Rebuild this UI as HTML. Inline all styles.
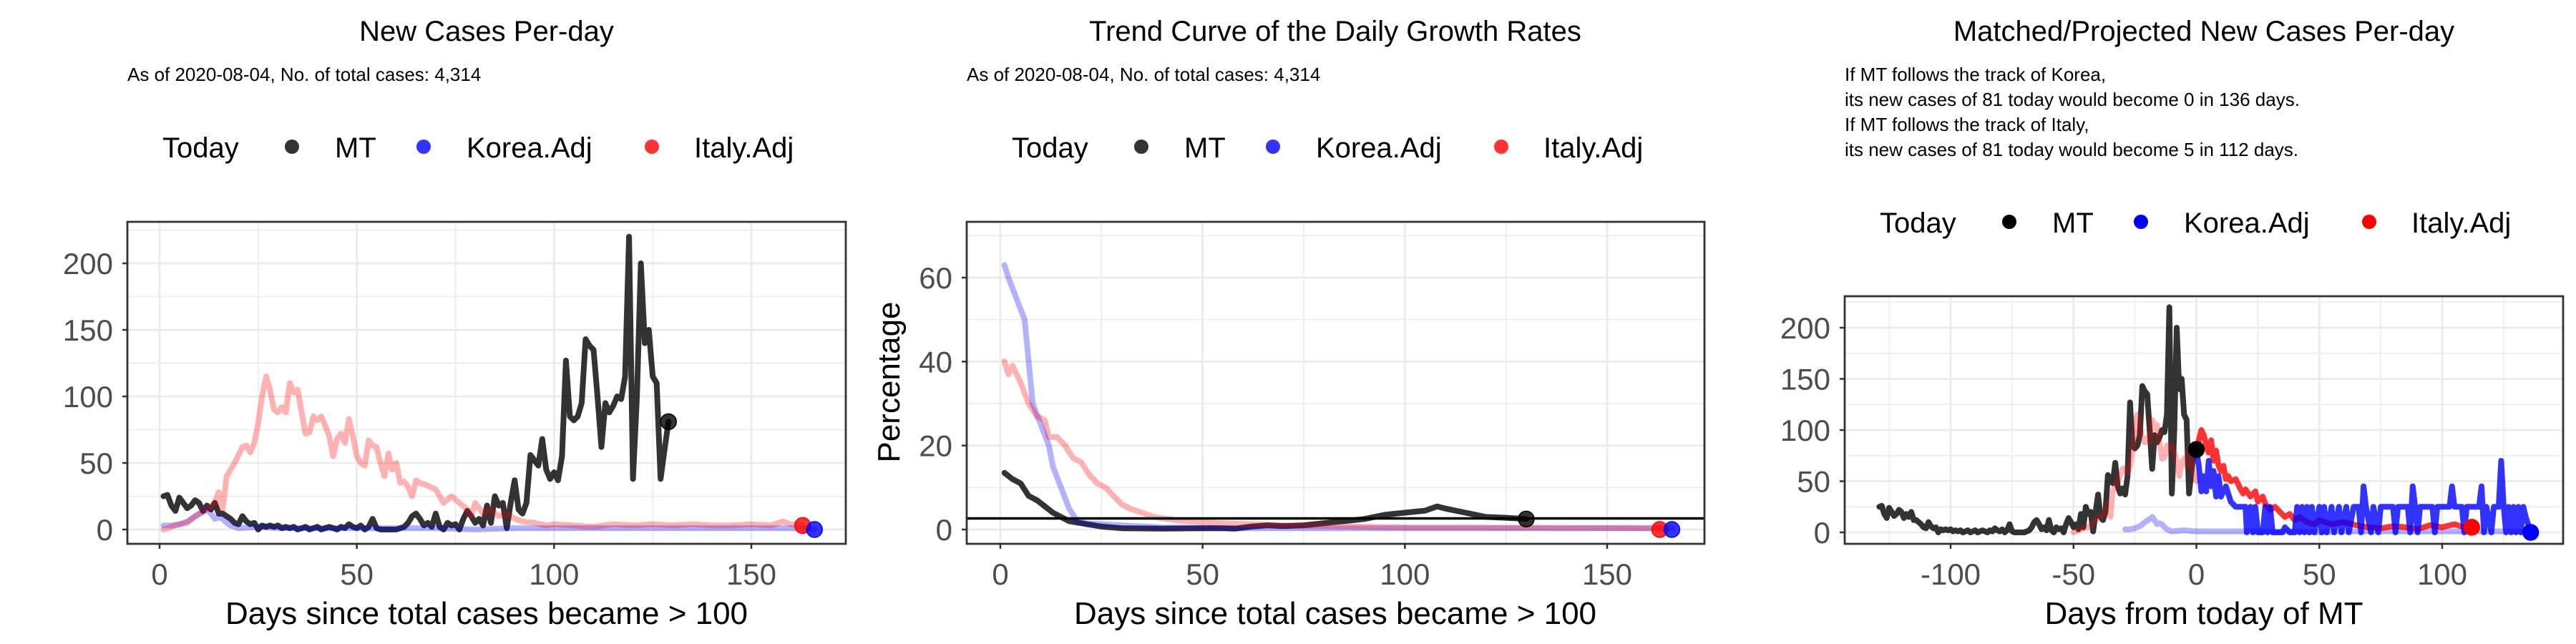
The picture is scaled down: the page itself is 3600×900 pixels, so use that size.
<!DOCTYPE html>
<html><head><meta charset="utf-8"><style>
html,body{margin:0;padding:0;background:#fff;}
svg{display:block;font-family:"Liberation Sans",Arial,sans-serif;}
</style></head><body>
<svg id="chart" width="3600" height="900" viewBox="0 0 3600 900" xmlns="http://www.w3.org/2000/svg">
<rect width="3600" height="900" fill="#fff"/>
<defs>
<clipPath id="c1"><rect x="178" y="310" width="1004" height="450"/></clipPath>
<clipPath id="c2"><rect x="1351" y="310" width="1031" height="450"/></clipPath>
<clipPath id="c3"><rect x="2578" y="414" width="1004" height="346"/></clipPath>
</defs>
<text x="680" y="57" font-size="40" text-anchor="middle">New Cases Per-day</text>
<text x="178" y="113" font-size="26">As of 2020-08-04, No. of total cases: 4,314</text>
<text x="1866" y="57" font-size="40" text-anchor="middle">Trend Curve of the Daily Growth Rates</text>
<text x="1351" y="113" font-size="26">As of 2020-08-04, No. of total cases: 4,314</text>
<text x="3080" y="57" font-size="40" text-anchor="middle">Matched/Projected New Cases Per-day</text>
<g font-size="26">
<text x="2578" y="113">If MT follows the track of Korea,</text>
<text x="2578" y="148">its new cases of 81 today would become 0 in 136 days.</text>
<text x="2578" y="183">If MT follows the track of Italy,</text>
<text x="2578" y="218">its new cases of 81 today would become 5 in 112 days.</text>
</g>
<text x="680" y="872" font-size="44" text-anchor="middle">Days since total cases became &gt; 100</text>
<text x="1866" y="872" font-size="44" text-anchor="middle">Days since total cases became &gt; 100</text>
<text x="3080" y="872" font-size="44" text-anchor="middle">Days from today of MT</text>
<text x="0" y="0" font-size="44" text-anchor="middle" transform="translate(1257,534) rotate(-90)">Percentage</text>
</svg>
<script>
// ---- data ----
const mtNew = [25,26,18,14,24,20,16,18,22,20,14,18,15,20,12,12,10,8,5,4,10,6,4,5,0,3,2,3,2,3,1,2,1,2,0,1,2,0,1,2,0,1,2,1,0,2,1,4,2,1,3,0,2,8,1,0,0,0,0,0,1,2,5,10,12,8,3,5,2,12,2,0,5,3,4,0,8,14,10,5,8,3,18,5,25,18,20,1,20,37,15,12,20,56,52,48,68,45,38,43,37,55,127,85,82,85,95,143,138,135,100,62,95,88,93,100,98,115,220,38,100,200,140,150,115,110,38,60,81];
const italyDays = [1,4,7,10,12,14,15,16,17,19,21,22,23,24,25,26,27,28,29,30,31,32,33,34,35,36,37,38,39,40,41,42,43,44,45,46,47,48,49,50,51,52,53,54,55,56,57,58,59,60,61,62,63,64,65,66,68,70,72,74,76,78,79,80,82,84,86,88,90,92,95,98,100,105,110,115,120,125,130,135,140,145,150,155,158,160,163];
const italyNew = [0,3,5,12,15,20,28,15,40,50,62,63,58,65,80,100,115,105,90,88,92,88,110,103,105,88,72,73,85,82,85,78,70,55,68,72,65,83,70,55,50,48,67,63,62,50,40,57,45,50,35,36,32,25,37,35,33,30,20,25,20,15,10,20,12,15,10,12,8,6,5,3,4,3,2,4,3,4,3,4,3,3,4,3,6,4,3];
const koreaDays = [1,3,5,7,9,11,12,13,14,15,16,17,18,20,25,30,40,50,60,70,80,90,100,110,120,130,140,150,160,166];
const koreaNew = [3,3,4,6,10,13,15,12,8,9,8,5,3,1,2,1,1,1,1,1,0,1,1,1,1,1,1,1,1,0];
const mtGrowthDays = [1,3,5,7,9,11,13,15,17,20,25,30,40,50,55,58,62,66,70,75,80,85,90,95,100,105,108,110,115,120,125,130];
const mtGrowth = [13.5,12,11,8,7,5.5,4,3,2,1.5,0.7,0.3,0.2,0.3,0.3,0.2,0.7,1.0,0.8,1.0,1.5,2,2.5,3.5,4,4.5,5.5,5,4,3,2.8,2.5];
const koreaGrowthDays = [1,2,4,6,7,8,10,12,13,15,17,19,21,30,40,60,166];
const koreaGrowth = [63,60,55,50,40,30,25,20,15,10,5,2,1.5,1,0.5,0.3,0.3];
const italyGrowthDays = [1,2,3,5,7,9,11,12,14,16,18,20,22,24,26,28,30,32,35,38,45,55,70,100,163];
const italyGrowth = [40,37,39,35,30,27,26,22,22,20,17,16,13,11,10,8,6,5,4,3,2,1.5,1,0.5,0.3];
const growthRef = 2.65;
const koreaProjDays = [0,1,2,3,4,5,6,7,8,9,10,12,14,16,18,20,20.5,22,23,24,25,27,28,29,30,31,35,36,38,40,41,42,43,44,45,46,47,48,50,51,52,53,55,56,58,59,61,62,64,66,67,68,69,71,72,74,75,80,81,82,86,87,88,89,90,91,96,97,98,103,104,105,108,109,110,115,116,117,118,120,121,123,124,125,126,127,128,129,130,131,132,133,134,136];
const koreaProj = [80,65,40,55,40,70,45,60,35,55,35,45,30,25,25,25,0,25,0,25,0,0,25,0,25,0,0,5,0,0,25,0,25,0,25,0,25,0,25,0,25,0,25,0,25,0,25,0,25,25,0,45,25,0,25,0,25,25,0,25,25,0,45,25,0,25,25,0,25,25,45,25,25,0,25,25,45,0,25,0,25,25,70,25,0,25,0,25,0,25,0,25,15,0];
const italyProjDays = [0,1,2,3,4,5,6,7,8,9,10,11,12,13,14,16,18,19,20,22,24,25,27,28,30,32,34,36,38,40,42,45,48,50,55,60,65,70,75,80,85,90,95,100,105,110,112];
const italyProj = [80,90,100,95,85,78,90,70,80,65,60,65,52,55,50,52,42,38,42,35,40,30,35,28,22,25,20,15,18,12,15,10,8,12,8,10,7,5,4,6,5,3,7,5,8,4,5];
const xTicks1 = [0,50,100,150];
const yTicks1 = [0,50,100,150,200];
const yTicks2 = [0,20,40,60];
const xTicks3 = [-100,-50,0,50,100];
const mtShift = -130, italyShift = -51, koreaShift = -30;

const NS = "http://www.w3.org/2000/svg";
const svg = document.getElementById('chart');
function mk(tag, attrs, parent){
  const e = document.createElementNS(NS, tag);
  for (const k in attrs) e.setAttribute(k, attrs[k]);
  (parent||svg).appendChild(e);
  return e;
}
function lin(d0,p0,d1,p1){ return v => p0 + (v-d0)*(p1-p0)/(d1-d0); }

function panel(id, box, xs, ys, xt, xm, yt, ym, clip){
  const g = mk('g', {});
  
  
  xm.forEach(v => { const x = xs(v); if (x>box.x && x<box.x+box.w) { const l = mk('line',{x1:x,x2:x,y1:box.y,y2:box.y+box.h,stroke:'#ebebeb','stroke-width':1.4},g);
      }});
  ym.forEach(v => { const y = ys(v); if (y>box.y && y<box.y+box.h) { const l = mk('line',{x1:box.x,x2:box.x+box.w,y1:y,y2:y,stroke:'#ebebeb','stroke-width':1.4},g);
      }});
  xt.forEach(v => { const x = xs(v);
    const l = mk('line',{x1:x,x2:x,y1:box.y,y2:box.y+box.h,stroke:'#ebebeb','stroke-width':2.8},g);
     
    const t = mk('line',{x1:x,x2:x,y1:box.y+box.h,y2:box.y+box.h+7,stroke:'#333','stroke-width':2.5},g);
     
    const tx = mk('text',{x:x,y:817,'font-size':42,fill:'#4d4d4d','text-anchor':'middle'},g); tx.textContent = v<0 ? '-'+(-v) : String(v);
      });
  yt.forEach(v => { const y = ys(v);
    const l = mk('line',{x1:box.x,x2:box.x+box.w,y1:y,y2:y,stroke:'#ebebeb','stroke-width':2.8},g);
     
    const t = mk('line',{x1:box.x-7,x2:box.x,y1:y,y2:y,stroke:'#333','stroke-width':2.5},g);
     
    const tx = mk('text',{x:box.x-20,y:y+15,'font-size':42,fill:'#4d4d4d','text-anchor':'end'},g); tx.textContent = String(v);
      });
  const series = mk('g',{'clip-path':'url(#'+clip+')'},g);
  
  
  const border = mk('rect',{x:box.x,y:box.y,width:box.w,height:box.h,fill:'none',stroke:'#333','stroke-width':2.8},g);
  
  
  return series;
}
function line(g, name, days, vals, xs, ys, shift, color, op, w){
  const pts = days.map((d,i) => xs(d+shift).toFixed(1)+','+ys(vals[i]).toFixed(1)).join(' ');
  const p = mk('polyline',{points:pts,fill:'none',stroke:color,'stroke-opacity':op,'stroke-width':w||8,'stroke-linejoin':'round','stroke-linecap':'round'},g);
  
  
}
function dot(g, name, d, v, xs, ys, color, op){
  const c = mk('circle',{cx:xs(d),cy:ys(v),r:11,fill:color,'fill-opacity':op,stroke:color,'stroke-width':1.5},g);
  
  
}
function legend(ox, y, op){
  const g = mk('g',{});
  
  
  const t = mk('text',{x:ox,y:y+15,'font-size':40},g); t.textContent='Today';
   
  const items = [['MT','#000',181,241],['Korea.Adj','#0000ff',365,425],['Italy.Adj','#ff0000',684,743]];
  items.forEach(it => {
    const c = mk('circle',{cx:ox+it[2],cy:y,r:10,fill:it[1],'fill-opacity':op},g);
    
    
    const tx = mk('text',{x:ox+it[3],y:y+15,'font-size':40},g); tx.textContent = it[0];
    
    
  });
}
const mtDays = mtNew.map((v,i)=>i+1);
const minor1 = [25,75,125,175,225];

// Panel 1
const xs1 = lin(0,223,150,1050), ys1 = lin(0,740,200,368);
const g1 = panel('panel1',{x:178,y:310,w:1004,h:450},xs1,ys1,xTicks1,[25,75,125,175],yTicks1,minor1,'c1');
line(g1,'mt-line',mtDays,mtNew,xs1,ys1,0,'#000',0.8);
line(g1,'korea-line',koreaDays,koreaNew,xs1,ys1,0,'#0000ff',0.3);
line(g1,'italy-line',italyDays,italyNew,xs1,ys1,0,'#ff0000',0.3);
dot(g1,'mt-today-point',mtDays[mtDays.length-1],mtNew[mtNew.length-1],xs1,ys1,'#000',0.8);
dot(g1,'italy-today-point',italyDays[italyDays.length-1],italyNew[italyNew.length-1],xs1,ys1,'#ff0000',0.8);
dot(g1,'korea-today-point',koreaDays[koreaDays.length-1],koreaNew[koreaNew.length-1],xs1,ys1,'#0000ff',0.8);
legend(227,205,0.8);

// Panel 2
const xs2 = lin(0,1398,150,2246), ys2 = lin(0,740,60,388);
const g2 = panel('panel2',{x:1351,y:310,w:1031,h:450},xs2,ys2,xTicks1,[25,75,125,175],yTicks2,[10,30,50,70],'c2');
line(g2,'mt-growth-line',mtGrowthDays,mtGrowth,xs2,ys2,0,'#000',0.8);
line(g2,'korea-growth-line',koreaGrowthDays,koreaGrowth,xs2,ys2,0,'#0000ff',0.3);
line(g2,'italy-growth-line',italyGrowthDays,italyGrowth,xs2,ys2,0,'#ff0000',0.3);
const ref = mk('line',{x1:1351,x2:2382,y1:ys2(growthRef),y2:ys2(growthRef),stroke:'#000','stroke-width':3.5},g2);


dot(g2,'mt-today-point',mtGrowthDays[mtGrowthDays.length-1],mtGrowth[mtGrowth.length-1],xs2,ys2,'#000',0.8);
dot(g2,'italy-today-point',italyGrowthDays[italyGrowthDays.length-1],0,xs2,ys2,'#ff0000',0.8);
dot(g2,'korea-today-point',koreaGrowthDays[koreaGrowthDays.length-1],0,xs2,ys2,'#0000ff',0.8);
legend(1414,205,0.8);

// Panel 3
const xs3 = lin(-100,2726,100,3413), ys3 = lin(0,744,200,458);
const g3 = panel('panel3',{x:2578,y:414,w:1004,h:346},xs3,ys3,xTicks3,[-125,-75,-25,25,75,125],yTicks1,minor1,'c3');
const itPastDays = italyDays.filter(d => d <= -italyShift);
const itPastVals = italyNew.slice(0, itPastDays.length);
line(g3,'mt-line',mtDays,mtNew,xs3,ys3,mtShift,'#000',0.8);
line(g3,'korea-matched-line',koreaDays,koreaNew,xs3,ys3,koreaShift,'#0000ff',0.3);
line(g3,'italy-matched-line',itPastDays,itPastVals,xs3,ys3,italyShift,'#ff0000',0.3);
line(g3,'italy-projected-line',italyProjDays,italyProj,xs3,ys3,0,'#ff0000',0.8);
line(g3,'korea-projected-line',koreaProjDays,koreaProj,xs3,ys3,0,'#0000ff',0.8);
dot(g3,'mt-today-point',0,mtNew[mtNew.length-1],xs3,ys3,'#000',1);
dot(g3,'italy-end-point',italyProjDays[italyProjDays.length-1],italyProj[italyProj.length-1],xs3,ys3,'#ff0000',1);
dot(g3,'korea-end-point',koreaProjDays[koreaProjDays.length-1],koreaProj[koreaProj.length-1],xs3,ys3,'#0000ff',1);
legend(2627,310,1);
</script>
</body></html>
